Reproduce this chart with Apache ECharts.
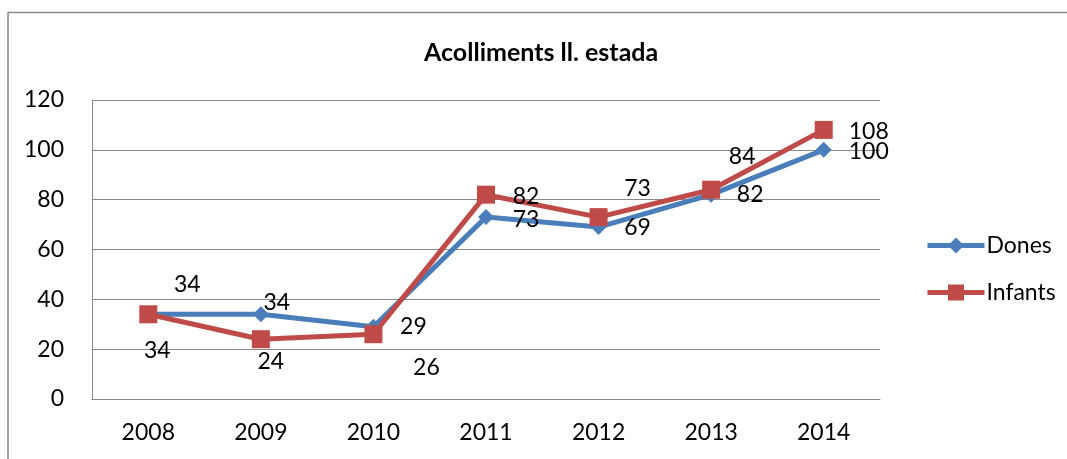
<!DOCTYPE html>
<html>
<head>
<meta charset="utf-8">
<script src="https://cdn.jsdelivr.net/npm/echarts@6/dist/echarts.min.js"></script>
<style>
  html, body { margin: 0; padding: 0; background: #fff; }
  #main { width: 1067px; height: 459px; }
</style>
</head>
<body>
<div id="main"></div>
<script>
// dades
const years = ["2008", "2009", "2010", "2011", "2012", "2013", "2014"];
const dones = [34, 34, 29, 73, 69, 82, 100];
const infants = [34, 24, 26, 82, 73, 84, 108];

// desplaçament de les etiquetes (com a l'original)
const donesLabelOffset = [[39, -30], [16, -12], [40, 0], [40, 2], [39, 1], [39, 0], [45, 2]];
const infantsLabelOffset = [[9, 36], [10, 22], [53, 33], [40, 2], [39, -29], [31, -33], [45, 2]];

const font = "Lato, 'Open Sans', sans-serif";
const blue = "#4A7EBB";
const red = "#BE4B48";

function withLabels(values, offsets) {
  return values.map((v, i) => ({
    value: v,
    label: { offset: offsets[i] }
  }));
}

const chart = echarts.init(document.getElementById("main"));
const option = {
  animation: false,
  textStyle: { fontFamily: font },
  title: {
    text: "Acolliments ll. estada",
    left: 419,
    top: 35,
    textStyle: { fontFamily: font, fontSize: 25, fontWeight: "bold", color: "#000" }
  },
  graphic: [
    { type: "line", shape: { x1: 8, y1: 12.5, x2: 1067, y2: 12.5 }, style: { stroke: "#888", lineWidth: 1.5 } },
    { type: "line", shape: { x1: 8, y1: 12, x2: 8, y2: 459 }, style: { stroke: "#888", lineWidth: 1.5 } }
  ],
  grid: { left: 92, right: 187, top: 100, bottom: 60 },
  legend: {
    orient: "vertical",
    left: 920,
    top: 229,
    itemGap: 24,
    itemWidth: 57,
    itemHeight: 20,
    textStyle: { fontFamily: font, fontSize: 23, color: "#000", padding: [0, 0, 0, -3] },
    data: [
      { name: "Dones", lineStyle: { width: 5, color: blue } },
      { name: "Infants", lineStyle: { width: 5, color: red } }
    ]
  },
  xAxis: {
    type: "category",
    data: years,
    boundaryGap: true,
    axisLine: { lineStyle: { color: "#888", width: 1 } },
    axisTick: { show: false },
    axisLabel: { color: "#000", fontSize: 23, margin: 22, fontFamily: font }
  },
  yAxis: {
    type: "value",
    min: 0,
    max: 120,
    interval: 20,
    axisLine: { show: true, lineStyle: { color: "#888", width: 1 } },
    axisTick: { show: false },
    splitLine: { lineStyle: { color: "#888", width: 1 } },
    axisLabel: { color: "#000", fontSize: 23, margin: 28, fontFamily: font }
  },
  series: [
    {
      name: "Dones",
      type: "line",
      data: withLabels(dones, donesLabelOffset),
      symbol: "diamond",
      symbolSize: 16,
      lineStyle: { width: 5, color: blue },
      itemStyle: { color: blue },
      label: { show: true, position: "inside", color: "#000", fontSize: 23, fontFamily: font }
    },
    {
      name: "Infants",
      type: "line",
      data: withLabels(infants, infantsLabelOffset),
      symbol: "rect",
      symbolSize: 18,
      lineStyle: { width: 5, color: red },
      itemStyle: { color: red },
      label: { show: true, position: "inside", color: "#000", fontSize: 23, fontFamily: font }
    }
  ]
};
chart.setOption(option);
</script>
</body>
</html>
